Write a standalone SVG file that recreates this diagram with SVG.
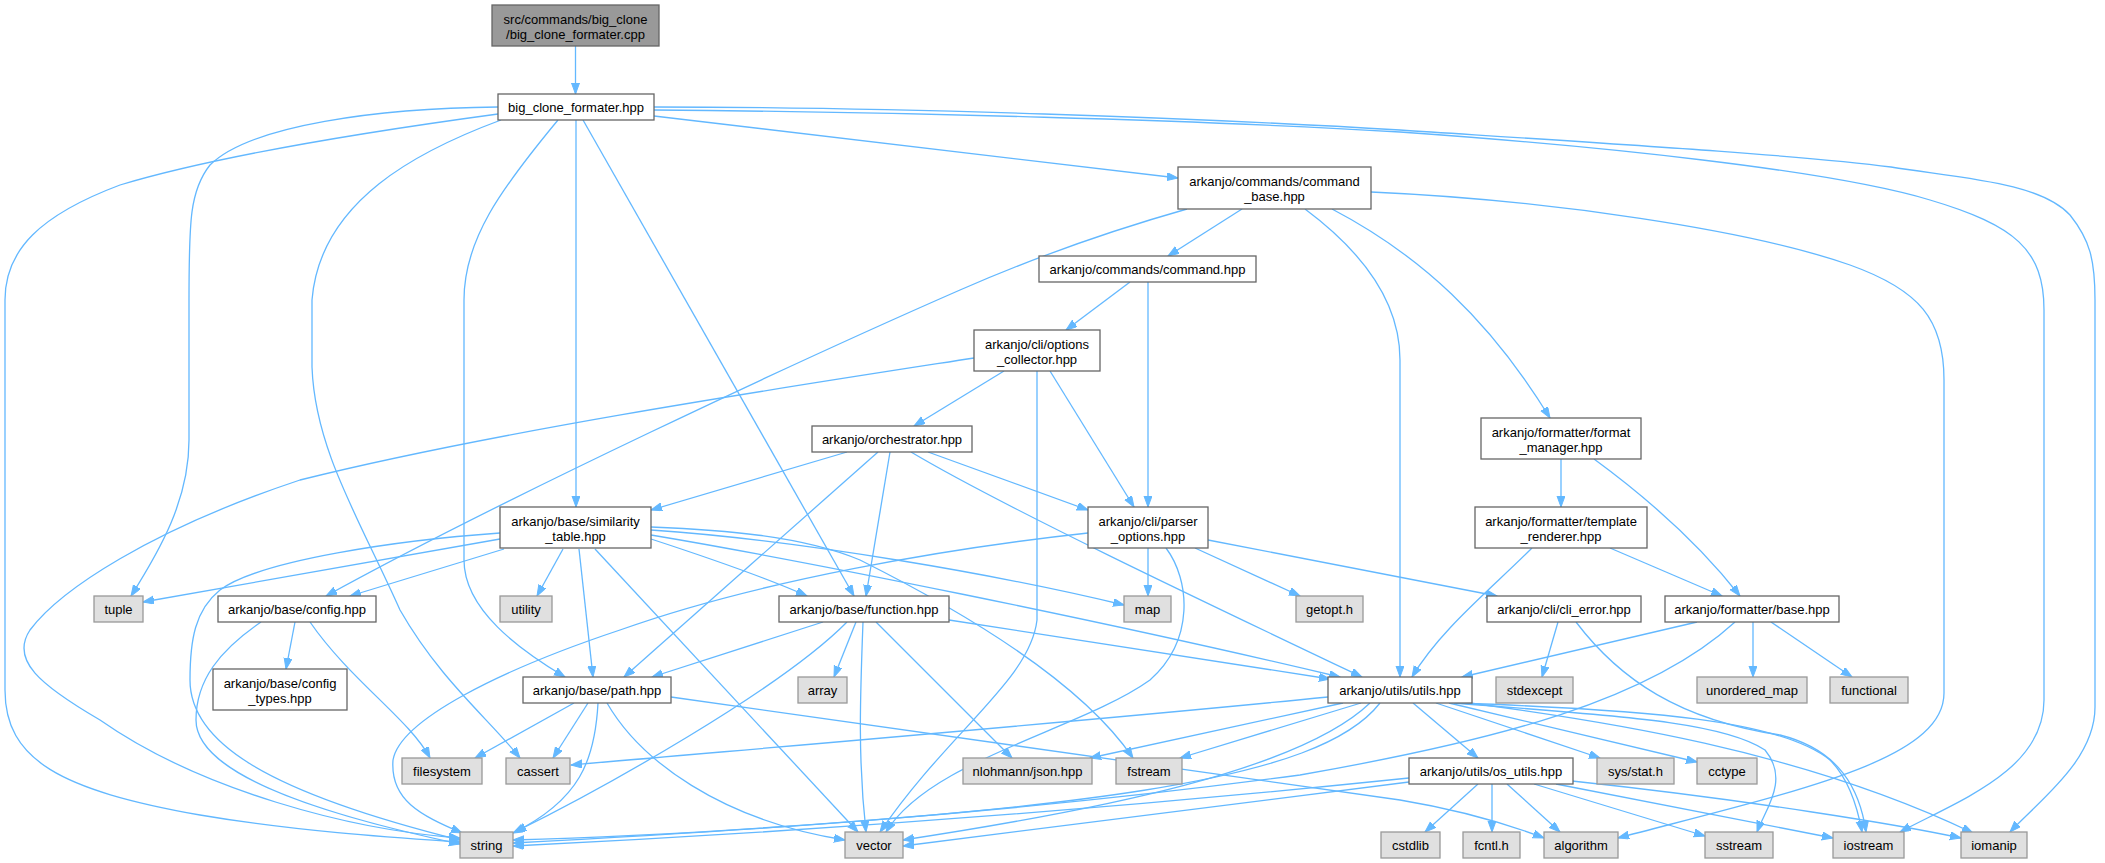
<svg xmlns="http://www.w3.org/2000/svg" width="2105" height="863" viewBox="0 0 2105 863">
<style>
.e{fill:none;stroke:#63b8ff;stroke-width:1.3;marker-end:url(#ah)}
.n rect{fill:#ffffff;stroke:#666666;stroke-width:1.3}
.s rect{fill:#e0e0e0;stroke:#999999;stroke-width:1.3}
.r rect{fill:#999999;stroke:#666666;stroke-width:1.3}
text{font-family:"Liberation Sans",Arial,Helvetica,sans-serif;font-size:13px;fill:#000000;text-anchor:middle}
</style>
<defs>
<marker id="ah" markerUnits="userSpaceOnUse" markerWidth="12" markerHeight="9" refX="11" refY="4" orient="auto">
<path d="M0,0 L11,4 L0,8 z" fill="#63b8ff" stroke="#63b8ff" stroke-width="1"/>
</marker>
</defs>
<rect width="2105" height="863" fill="#ffffff"/>
<g id="edges">
<path class="e" d="M575.5,46 L575.5,94"/>
<path class="e" d="M498,114 C380,130 220,155 120,185 C40,215 5,250 5,300 L5,690 C5,760 60,790 200,815 C300,832 400,838 460,842"/>
<path class="e" d="M498,107 C380,108 250,125 210,165 C190,190 189,220 189,300 L189,440 C189,500 160,550 131,596"/>
<path class="e" d="M501,120 C420,150 320,200 312,300 L312,367 C315,450 360,520 400,610 C440,680 490,720 520,758"/>
<path class="e" d="M558,120 C500,190 464,240 464,300 L464,560 C464,610 520,650 565,677"/>
<path class="e" d="M576,120 L576,507"/>
<path class="e" d="M583,120 L854,596"/>
<path class="e" d="M654,116 L1178,178"/>
<path class="e" d="M654,110 C900,112 1200,120 1400,132 C1600,146 1830,170 1930,200 C2015,225 2044,250 2044,310 L2044,700 C2044,770 1960,800 1900,832"/>
<path class="e" d="M654,107 C900,107 1200,118 1400,130 C1600,143 1800,155 1891,167 C1960,178 2040,182 2070,215 C2090,240 2095,260 2095,300 L2095,707 C2095,760 2040,800 2010,832"/>
<path class="e" d="M1242,209 L1168,256"/>
<path class="e" d="M1187,209 C1120,228 1040,255 960,290 C800,360 500,500 326,596"/>
<path class="e" d="M1305,209 C1360,250 1400,300 1400,360 L1400,677"/>
<path class="e" d="M1332,209 C1420,255 1490,320 1550,418"/>
<path class="e" d="M1371,192 C1550,200 1750,230 1850,265 C1920,290 1944,320 1944,380 L1944,693 C1944,760 1800,790 1618,838"/>
<path class="e" d="M1130,282 L1066,330"/>
<path class="e" d="M1148,282 L1148,507"/>
<path class="e" d="M1004,371 L914,426"/>
<path class="e" d="M1037,371 L1037,620 C1030,680 950,730 880,832"/>
<path class="e" d="M1050,371 L1134,507"/>
<path class="e" d="M974,358 C800,385 500,430 300,480 C150,530 60,590 30,630 C10,660 40,685 100,720 C200,790 350,830 460,838"/>
<path class="e" d="M928,452 L1088,510"/>
<path class="e" d="M847,452 L651,510"/>
<path class="e" d="M878,452 L624,677"/>
<path class="e" d="M890,452 L866,596"/>
<path class="e" d="M911,452 C1000,505 1200,600 1362,677"/>
<path class="e" d="M1148,548 L1148,596"/>
<path class="e" d="M1195,548 L1300,596"/>
<path class="e" d="M1208,540 L1497,596"/>
<path class="e" d="M1166,548 C1190,580 1195,640 1150,680 C1080,730 930,760 886,832"/>
<path class="e" d="M1088,533 C950,548 760,580 620,630 C500,670 400,720 393,760 C390,800 420,815 462,833"/>
<path class="e" d="M500,539 L143,602"/>
<path class="e" d="M500,533 C400,540 260,560 220,590 C195,610 190,640 190,680 C190,740 260,790 460,840"/>
<path class="e" d="M504,549 L350,596"/>
<path class="e" d="M563,549 L537,596"/>
<path class="e" d="M579,549 L593,677"/>
<path class="e" d="M595,549 L858,832"/>
<path class="e" d="M651,539 C700,555 760,575 807,596"/>
<path class="e" d="M651,530 C800,540 1000,575 1124,605"/>
<path class="e" d="M651,527 C720,530 800,535 860,560 C960,610 1080,680 1133,758"/>
<path class="e" d="M651,535 C800,560 1100,620 1340,677"/>
<path class="e" d="M823,622 L652,677"/>
<path class="e" d="M847,622 C780,690 600,790 515,832"/>
<path class="e" d="M856,622 L834,677"/>
<path class="e" d="M863,622 C860,700 858,760 866,832"/>
<path class="e" d="M876,622 L1012,758"/>
<path class="e" d="M949,620 L1330,679"/>
<path class="e" d="M295,622 L286,669"/>
<path class="e" d="M310,622 C350,680 410,720 430,758"/>
<path class="e" d="M261,622 C220,650 196,680 196,720 C196,770 300,810 460,844"/>
<path class="e" d="M574,703 L475,758"/>
<path class="e" d="M588,703 L553,758"/>
<path class="e" d="M598,703 C595,760 580,800 513,833"/>
<path class="e" d="M607,703 C640,760 720,820 845,840"/>
<path class="e" d="M671,697 L1400,800 C1460,810 1510,825 1544,838"/>
<path class="e" d="M1328,697 C1100,720 800,745 571,765"/>
<path class="e" d="M1343,703 L1090,758"/>
<path class="e" d="M1361,703 L1180,758"/>
<path class="e" d="M1370,703 C1300,770 1100,810 903,840"/>
<path class="e" d="M1380,703 C1320,780 1100,812 513,843"/>
<path class="e" d="M1413,703 L1478,758"/>
<path class="e" d="M1436,703 L1600,758"/>
<path class="e" d="M1449,703 L1697,762"/>
<path class="e" d="M1454,703 C1600,715 1720,720 1765,750 C1790,780 1765,810 1757,832"/>
<path class="e" d="M1458,703 C1650,710 1780,720 1830,760 C1850,780 1858,810 1862,832"/>
<path class="e" d="M1462,702 C1600,720 1800,750 1973,833"/>
<path class="e" d="M1409,778 C1100,810 800,832 513,846"/>
<path class="e" d="M1409,782 C1200,810 1000,835 903,846"/>
<path class="e" d="M1478,784 L1425,832"/>
<path class="e" d="M1492,784 L1492,832"/>
<path class="e" d="M1507,784 L1560,832"/>
<path class="e" d="M1534,784 L1705,836"/>
<path class="e" d="M1556,784 L1833,838"/>
<path class="e" d="M1572,781 C1750,800 1900,825 1961,838"/>
<path class="e" d="M1558,622 L1542,677"/>
<path class="e" d="M1576,622 C1620,680 1680,720 1780,735 C1840,750 1860,790 1866,832"/>
<path class="e" d="M1697,622 L1462,677"/>
<path class="e" d="M1735,622 C1650,700 1500,740 1300,775 C1000,815 700,835 513,840"/>
<path class="e" d="M1753,622 L1753,677"/>
<path class="e" d="M1771,622 L1852,677"/>
<path class="e" d="M1561,459 L1561,507"/>
<path class="e" d="M1594,459 C1650,500 1700,545 1740,596"/>
<path class="e" d="M1532,548 C1490,590 1440,630 1412,677"/>
<path class="e" d="M1610,548 L1722,596"/>
</g>
<g id="node1" class="r"><rect x="492" y="5" width="167" height="41"/><text x="575.5" y="24">src/commands/big_clone</text><text x="575.5" y="39">/big_clone_formater.cpp</text></g>
<g id="node2" class="n"><rect x="498" y="94" width="156" height="26"/><text x="576" y="111.5">big_clone_formater.hpp</text></g>
<g id="node3" class="n"><rect x="1178" y="167" width="193" height="42"/><text x="1274.5" y="186">arkanjo/commands/command</text><text x="1274.5" y="201">_base.hpp</text></g>
<g id="node4" class="n"><rect x="1039" y="256" width="217" height="26"/><text x="1147.5" y="273.5">arkanjo/commands/command.hpp</text></g>
<g id="node5" class="n"><rect x="974" y="330" width="126" height="41"/><text x="1037" y="349">arkanjo/cli/options</text><text x="1037" y="364">_collector.hpp</text></g>
<g id="node6" class="n"><rect x="812" y="426" width="160" height="26"/><text x="892" y="443.5">arkanjo/orchestrator.hpp</text></g>
<g id="node7" class="n"><rect x="1088" y="507" width="120" height="41"/><text x="1148" y="526">arkanjo/cli/parser</text><text x="1148" y="541">_options.hpp</text></g>
<g id="node8" class="n"><rect x="500" y="507" width="151" height="41"/><text x="575.5" y="526">arkanjo/base/similarity</text><text x="575.5" y="541">_table.hpp</text></g>
<g id="node9" class="n"><rect x="1481" y="418" width="160" height="41"/><text x="1561" y="437">arkanjo/formatter/format</text><text x="1561" y="452">_manager.hpp</text></g>
<g id="node10" class="n"><rect x="1475" y="507" width="172" height="41"/><text x="1561" y="526">arkanjo/formatter/template</text><text x="1561" y="541">_renderer.hpp</text></g>
<g id="node11" class="s"><rect x="94" y="596" width="49" height="26"/><text x="118.5" y="613.5">tuple</text></g>
<g id="node12" class="n"><rect x="218" y="596" width="158" height="26"/><text x="297" y="613.5">arkanjo/base/config.hpp</text></g>
<g id="node13" class="s"><rect x="500" y="596" width="52" height="26"/><text x="526" y="613.5">utility</text></g>
<g id="node14" class="n"><rect x="779" y="596" width="170" height="26"/><text x="864" y="613.5">arkanjo/base/function.hpp</text></g>
<g id="node15" class="s"><rect x="1124" y="596" width="47" height="26"/><text x="1147.5" y="613.5">map</text></g>
<g id="node16" class="s"><rect x="1296" y="596" width="67" height="26"/><text x="1329.5" y="613.5">getopt.h</text></g>
<g id="node17" class="n"><rect x="1487" y="596" width="154" height="26"/><text x="1564" y="613.5">arkanjo/cli/cli_error.hpp</text></g>
<g id="node18" class="n"><rect x="1665" y="596" width="174" height="26"/><text x="1752" y="613.5">arkanjo/formatter/base.hpp</text></g>
<g id="node19" class="n"><rect x="213" y="669" width="134" height="41"/><text x="280" y="688">arkanjo/base/config</text><text x="280" y="703">_types.hpp</text></g>
<g id="node20" class="n"><rect x="523" y="677" width="148" height="26"/><text x="597" y="694.5">arkanjo/base/path.hpp</text></g>
<g id="node21" class="s"><rect x="798" y="677" width="49" height="26"/><text x="822.5" y="694.5">array</text></g>
<g id="node22" class="n"><rect x="1328" y="677" width="144" height="26"/><text x="1400" y="694.5">arkanjo/utils/utils.hpp</text></g>
<g id="node23" class="s"><rect x="1496" y="677" width="77" height="26"/><text x="1534.5" y="694.5">stdexcept</text></g>
<g id="node24" class="s"><rect x="1697" y="677" width="110" height="26"/><text x="1752" y="694.5">unordered_map</text></g>
<g id="node25" class="s"><rect x="1830" y="677" width="78" height="26"/><text x="1869" y="694.5">functional</text></g>
<g id="node26" class="s"><rect x="402" y="758" width="80" height="26"/><text x="442" y="775.5">filesystem</text></g>
<g id="node27" class="s"><rect x="506" y="758" width="64" height="26"/><text x="538" y="775.5">cassert</text></g>
<g id="node28" class="s"><rect x="963" y="758" width="129" height="26"/><text x="1027.5" y="775.5">nlohmann/json.hpp</text></g>
<g id="node29" class="s"><rect x="1116" y="758" width="66" height="26"/><text x="1149" y="775.5">fstream</text></g>
<g id="node30" class="n"><rect x="1409" y="758" width="164" height="26"/><text x="1491" y="775.5">arkanjo/utils/os_utils.hpp</text></g>
<g id="node31" class="s"><rect x="1597" y="758" width="77" height="26"/><text x="1635.5" y="775.5">sys/stat.h</text></g>
<g id="node32" class="s"><rect x="1697" y="758" width="60" height="26"/><text x="1727" y="775.5">cctype</text></g>
<g id="node33" class="s"><rect x="460" y="832" width="53" height="26"/><text x="486.5" y="849.5">string</text></g>
<g id="node34" class="s"><rect x="845" y="832" width="58" height="26"/><text x="874" y="849.5">vector</text></g>
<g id="node35" class="s"><rect x="1381" y="832" width="59" height="26"/><text x="1410.5" y="849.5">cstdlib</text></g>
<g id="node36" class="s"><rect x="1463" y="832" width="57" height="26"/><text x="1491.5" y="849.5">fcntl.h</text></g>
<g id="node37" class="s"><rect x="1544" y="832" width="74" height="26"/><text x="1581" y="849.5">algorithm</text></g>
<g id="node38" class="s"><rect x="1705" y="832" width="68" height="26"/><text x="1739" y="849.5">sstream</text></g>
<g id="node39" class="s"><rect x="1833" y="832" width="71" height="26"/><text x="1868.5" y="849.5">iostream</text></g>
<g id="node40" class="s"><rect x="1961" y="832" width="66" height="26"/><text x="1994" y="849.5">iomanip</text></g>
</svg>
